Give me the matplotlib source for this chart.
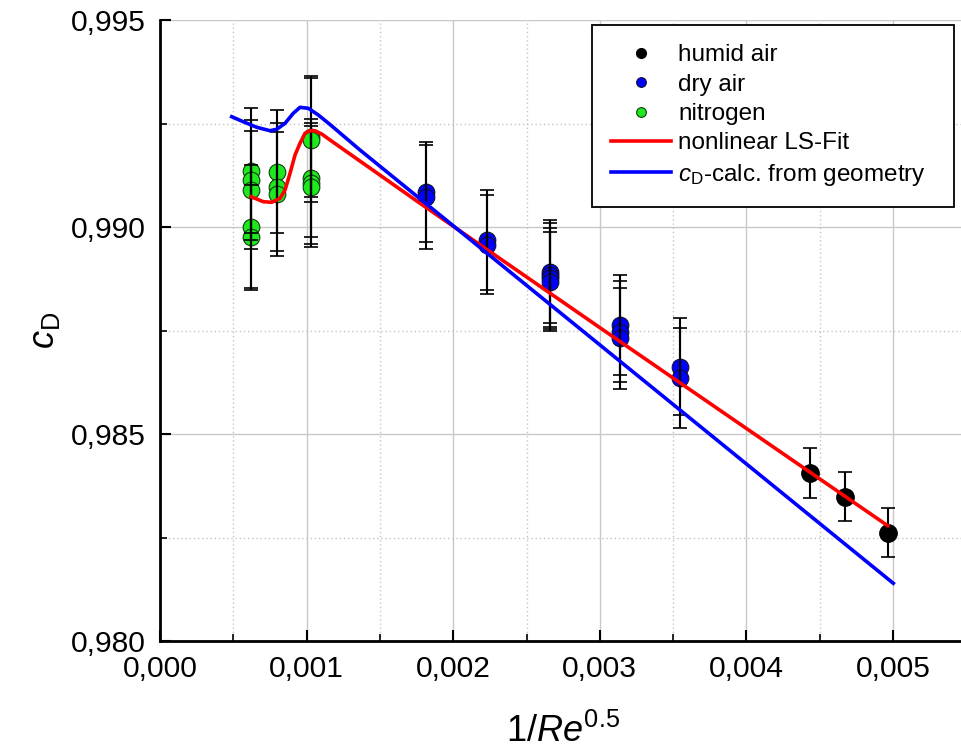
import numpy as np
import matplotlib
matplotlib.use("Agg")
import matplotlib.pyplot as plt
from matplotlib.lines import Line2D
from matplotlib.ticker import FixedLocator

plt.rcParams['font.family'] = ['Liberation Sans', 'DejaVu Sans']
plt.rcParams['mathtext.fontset'] = 'custom'
plt.rcParams['mathtext.rm'] = 'Liberation Sans'
plt.rcParams['mathtext.it'] = 'Liberation Sans:italic'

# measured points (x = 1/Re^0.5, y = cD, err = half width of error bar)
humid_x = [0.004434, 0.004673, 0.004964]
humid_y = [0.98405, 0.98349, 0.98262]
humid_err = [0.0006, 0.0006, 0.0006]

dry_x = [0.001815, 0.001815,
         0.00223, 0.00223,
         0.00266, 0.00266, 0.00266, 0.00266,
         0.003138, 0.003138, 0.003138,
         0.003547, 0.003547]
dry_y = [0.99085, 0.99073,
         0.98969, 0.98957,
         0.98892, 0.98884, 0.98876, 0.98868,
         0.98763, 0.98747, 0.98731,
         0.98663, 0.98635]
dry_err = [0.00121, 0.00125,
           0.0012, 0.0012,
           0.00125, 0.00125, 0.00122, 0.0012,
           0.0012, 0.00122, 0.00122,
           0.00118, 0.0012]

n2_x = [0.00062, 0.00062, 0.00062, 0.00062, 0.00062,
        0.0008, 0.0008, 0.0008,
        0.00103, 0.00103, 0.00103, 0.00103, 0.00103]
n2_y = [0.99136, 0.99114, 0.99089, 0.98999, 0.98977,
        0.99134, 0.99097, 0.99080,
        0.99218, 0.99210, 0.99118, 0.99106, 0.99097]
n2_err = [0.00151, 0.00145, 0.00143, 0.0015, 0.00125,
          0.00148, 0.00155, 0.0015,
          0.00146, 0.0015, 0.00142, 0.00146, 0.00146]

# nonlinear least squares fit
fit_x = [0.000621, 0.000705, 0.000762, 0.000819, 0.000853, 0.000887, 0.000921,
         0.000955, 0.000989, 0.001023, 0.001057, 0.001103, 0.00116, 0.001774,
         0.003, 0.004964]
fit_y = [0.990732, 0.990611, 0.990597, 0.990693, 0.990894, 0.991297, 0.991739,
         0.992022, 0.992263, 0.992326, 0.992326, 0.992246, 0.992101, 0.990572,
         0.987570, 0.982785]

# cD calculated from geometry
geo_x = [0.000489, 0.000568, 0.00066, 0.00075, 0.000796, 0.000853, 0.000909,
         0.000955, 0.001012, 0.00108, 0.00116, 0.001364, 0.005002]
geo_y = [0.992664, 0.992543, 0.992408, 0.992326, 0.99236, 0.992505, 0.992746,
         0.992891, 0.992867, 0.992705, 0.992475, 0.99186, 0.981394]

xticks = [0.000, 0.001, 0.002, 0.003, 0.004, 0.005]
xticklabels = ['0,000', '0,001', '0,002', '0,003', '0,004', '0,005']
yticks = [0.980, 0.985, 0.990, 0.995]
yticklabels = ['0,980', '0,985', '0,990', '0,995']

fig = plt.figure(figsize=(9.61, 7.53), dpi=100)
ax = fig.add_axes([160/961, 1 - 641/753, 806.3/961, 621/753])

green = '#1ee81e'
blue = '#0000ff'
red = '#ff0000'

# markers first, error bars over them, curves on top
ax.plot(humid_x, humid_y, 'o', ms=12.5, mfc='black', mec='black', zorder=3)
ax.plot(dry_x, dry_y, 'o', ms=12, mfc=blue, mec='#101030', mew=0.8, zorder=3)
ax.plot(n2_x, n2_y, 'o', ms=12, mfc=green, mec='#104010', mew=0.8, zorder=3)
for xs, ys, es in [(humid_x, humid_y, humid_err), (dry_x, dry_y, dry_err), (n2_x, n2_y, n2_err)]:
    ax.errorbar(xs, ys, yerr=es, fmt='none', ecolor='black', elinewidth=1.5,
                capsize=5, capthick=1.2, zorder=4)

ax.plot(fit_x, fit_y, color=red, lw=2.6, zorder=5)
ax.plot(geo_x, geo_y, color=blue, lw=2.6, zorder=5)

ax.set_xlim(0, 0.0055)
ax.set_ylim(0.980, 0.995)
ax.xaxis.set_major_locator(FixedLocator(xticks))
ax.set_xticklabels(xticklabels)
ax.yaxis.set_major_locator(FixedLocator(yticks))
ax.set_yticklabels(yticklabels)
ax.xaxis.set_minor_locator(FixedLocator(np.arange(0.0005, 0.0056, 0.001)))
ax.yaxis.set_minor_locator(FixedLocator([0.9825, 0.9875, 0.9925]))

ax.set_axisbelow(True)
ax.grid(which='major', color='#c8c8c8', lw=1.0, ls='-')
ax.grid(which='minor', color='#c4c4c4', lw=1.0, ls=(0, (1, 2)))

for s in ['top', 'right']:
    ax.spines[s].set_visible(False)
for s in ['left', 'bottom']:
    ax.spines[s].set_linewidth(2.0)

ax.tick_params(which='major', direction='in', length=8, width=1.5, labelsize=21.6, pad=10)
ax.tick_params(which='minor', direction='in', length=5, width=1.2)

ax.set_xlabel(r'1/$Re^{0.5}$', fontsize=26)
ax.set_ylabel(r'$c_\mathrm{D}$', fontsize=26)
ax.xaxis.set_label_coords(0.5, -0.118)
ax.yaxis.set_label_coords(-0.122, 0.5)

handles = [
    Line2D([], [], ls='none', marker='o', ms=7, mfc='black', mec='black'),
    Line2D([], [], ls='none', marker='o', ms=7, mfc=blue, mec='#101030', mew=0.8),
    Line2D([], [], ls='none', marker='o', ms=7, mfc=green, mec='#104010', mew=0.8),
    Line2D([], [], color=red, lw=2.6),
    Line2D([], [], color=blue, lw=2.6),
]
labels = ['humid air', 'dry air', 'nitrogen', 'nonlinear LS-Fit',
          r'$c_\mathrm{D}$-calc. from geometry']
leg = ax.legend(handles, labels, loc='upper left', mode='expand',
                bbox_to_anchor=(592/961, 1 - 203/753, 362/961, 178/753),
                bbox_transform=fig.transFigure, borderaxespad=0,
                fancybox=False, edgecolor='black', framealpha=1,
                fontsize=17.5, handlelength=2.45, handletextpad=0.3,
                labelspacing=0.3, borderpad=0.8, numpoints=1)
leg.get_frame().set_linewidth(1.3)

fig.savefig('out.png', dpi=100)
